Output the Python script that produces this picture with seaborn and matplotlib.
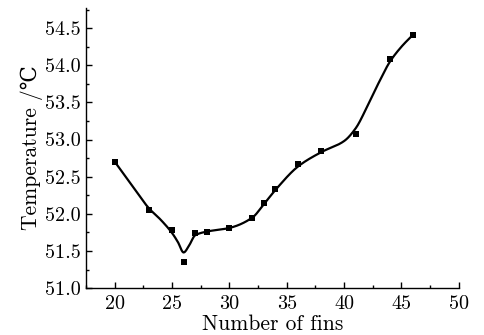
import numpy as np
import pandas as pd
import matplotlib
matplotlib.use("Agg")
import matplotlib.pyplot as plt
import seaborn as sns
from matplotlib.ticker import MultipleLocator

# measured points
fins = [20, 23, 25, 26, 27, 28, 30, 32, 33, 34, 36, 38, 41, 44, 46]
temp = [52.70, 52.05, 51.78, 51.35, 51.745, 51.755, 51.81, 51.95, 52.15,
        52.34, 52.67, 52.84, 53.07, 54.09, 54.41]

# fitted curve values
fit_x = [20, 21.5, 23, 24, 25, 25.5, 26, 26.5, 27, 28, 30, 32, 33, 34, 36, 38, 40, 41, 42, 43, 44, 45, 46]
fit_y = [52.70, 52.38, 52.07, 51.92, 51.74, 51.62, 51.48, 51.58, 51.71, 51.76, 51.81, 51.95, 52.13,
         52.32, 52.64, 52.83, 52.98, 53.15, 53.44, 53.76, 54.05, 54.25, 54.41]


def pchip(x, y, xs):
    x = np.asarray(x, float); y = np.asarray(y, float)
    h = np.diff(x)
    delta = np.diff(y) / h
    n = len(x)
    m = np.zeros(n)
    for k in range(1, n - 1):
        if delta[k - 1] * delta[k] > 0:
            w1 = 2 * h[k] + h[k - 1]
            w2 = h[k] + 2 * h[k - 1]
            m[k] = (w1 + w2) / (w1 / delta[k - 1] + w2 / delta[k])
    m[0] = delta[0]
    m[-1] = delta[-1]
    idx = np.clip(np.searchsorted(x, xs) - 1, 0, n - 2)
    t = (xs - x[idx]) / h[idx]
    h00 = 2 * t**3 - 3 * t**2 + 1
    h10 = t**3 - 2 * t**2 + t
    h01 = -2 * t**3 + 3 * t**2
    h11 = t**3 - t**2
    return h00 * y[idx] + h10 * h[idx] * m[idx] + h01 * y[idx + 1] + h11 * h[idx] * m[idx + 1]


xs = np.linspace(fit_x[0], fit_x[-1], 800)
curve = pd.DataFrame({"x": xs, "y": pchip(fit_x, fit_y, xs)})
pts = pd.DataFrame({"x": fins, "y": temp})

sns.set_theme(style="ticks")
plt.rcParams["font.family"] = ["cmr10", "DejaVu Serif"]
plt.rcParams["axes.formatter.use_mathtext"] = True
plt.rcParams["mathtext.fontset"] = "cm"

fig = plt.figure(figsize=(4.84, 3.35), dpi=100)
ax = fig.add_axes([0.178, 0.140, 0.770, 0.836])

sns.lineplot(data=curve, x="x", y="y", ax=ax, color="black", linewidth=1.6, sort=False)
sns.scatterplot(data=pts, x="x", y="y", ax=ax, color="black", marker="s", s=20,
                edgecolor="black", linewidth=0, zorder=3)

ax.set_xlim(17.5, 50)
ax.set_ylim(51.0, 54.77)
ax.xaxis.set_minor_locator(MultipleLocator(2.5))
ax.yaxis.set_minor_locator(MultipleLocator(0.25))
ax.set_yticks([51.0, 51.5, 52.0, 52.5, 53.0, 53.5, 54.0, 54.5])
ax.set_yticklabels(["51.0", "51.5", "52.0", "52.5", "53.0", "53.5", "54.0", "54.5"])
ax.set_xticks([20, 25, 30, 35, 40, 45, 50])
ax.set_xticklabels(["20", "25", "30", "35", "40", "45", "50"])

ax.tick_params(which="both", direction="in", colors="black", labelsize=14.5, width=1)
ax.tick_params(which="major", length=4)
ax.tick_params(which="minor", length=2.5)
ax.tick_params(axis="y", which="major", pad=4)
ax.tick_params(axis="x", which="major", pad=5)
for s in ["top", "right"]:
    ax.spines[s].set_visible(False)
for s in ["left", "bottom"]:
    ax.spines[s].set_color("black")
    ax.spines[s].set_linewidth(1)

ax.set_xlabel("Number of fins", fontsize=15.5, labelpad=1, color="black")
ax.set_ylabel("Temperature /\u2103", fontsize=15.5, labelpad=1, color="black")

fig.savefig("out.png", dpi=100, facecolor="white")
